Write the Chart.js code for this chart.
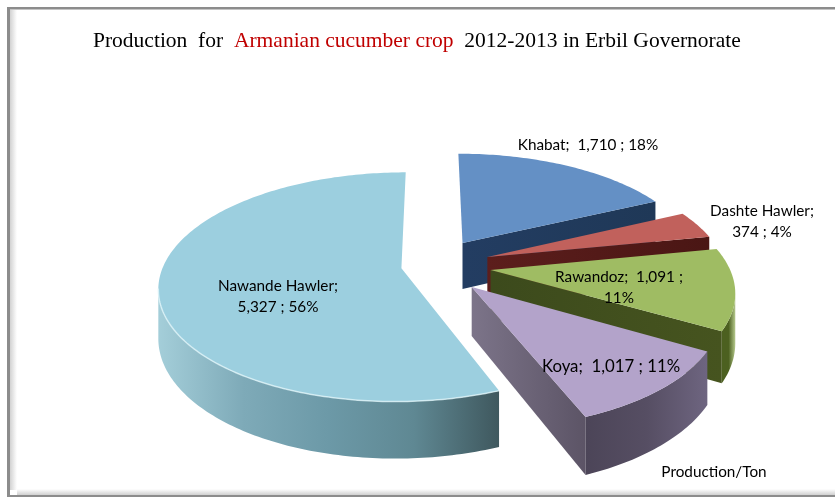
<!DOCTYPE html>
<html>
<head>
<meta charset="utf-8">
<title>Armanian cucumber production</title>
<script src="https://cdn.jsdelivr.net/npm/chart.js@4"></script>
<style>
  html, body { margin: 0; padding: 0; background: #fff; }
  canvas { display: block; }
</style>
</head>
<body>
<canvas id="pieChart" width="835" height="497"></canvas>
<script>
// data
const categories = ['Khabat', 'Dashte Hawler', 'Rawandoz', 'Koya', 'Nawande Hawler'];
const production = [1710, 374, 1091, 1017, 5327];
const shares = [18, 4, 11, 11, 56];
const titleParts = ['Production  for  ', 'Armanian cucumber crop', '  2012-2013 in Erbil Governorate'];
const seriesName = 'Production/Ton';

// explosion of each slice (Chart.js divides offset by 4 when it moves an arc)
const sliceOffsets = [236, 236, 236, 236, 124];

const sliceStyles = [
    { top: '#6490c5', edge: ['#233d62', '#1f3857'], rim: ['#1f3857', '#1f3857'] },
    { top: '#c1615c', edge: ['#5c1e1c', '#4a1614'], rim: ['#4a1614', '#4a1614'] },
    { top: '#9fbc63', edge: ['#3c4a1c', '#46541f'], rim: ['#4c6020', '#4c6020', '#b5c98c'] },
    { top: '#b3a3ca', edge: ['#7c7489', '#5c5466'], rim: ['#4c4558', '#564e63', '#6e6580'] },
    { top: '#9ccfdf', edge: ['#405a60', '#405a60'], rim: ['#a4ced9', '#7eaab8', '#6c99a7', '#5f8893', '#3f585e'], shine: true }
];

// where the label text sits, and after which part it wraps
const labelPlaces = [
    { x: 588, y: 145, size: 15.3, wrap: null },
    { x: 762, y: 211, size: 15.3, wrap: 'name' },
    { x: 619, y: 277, size: 15.3, wrap: 'value' },
    { x: 611, y: 367, size: 16.8, wrap: null },
    { x: 278, y: 286, size: 15.3, wrap: 'name' }
];

const TILT = 0.465;       // vertical squash of the pie plane
const PERSPECTIVE = 0.163;
const DEPTH = 47.5;       // height of the pie wall

function project(arc, px, py) {
    const w = 1 - PERSPECTIVE * py / arc.outerRadius;
    return {
        x: arc.x + px / w,
        y: arc.y + TILT * py / w,
        drop: DEPTH / w
    };
}

function sliceGeometry(arc) {
    const mid = (arc.startAngle + arc.endAngle) / 2;
    const shift = arc.options.offset / 4;
    const tipX = Math.cos(mid) * shift;
    const tipY = Math.sin(mid) * shift;
    const steps = Math.max(8, Math.round((arc.endAngle - arc.startAngle) * 180 / Math.PI));
    const outer = [];
    for (let i = 0; i <= steps; i++) {
        const a = arc.startAngle + (arc.endAngle - arc.startAngle) * i / steps;
        outer.push(project(arc, tipX + Math.cos(a) * arc.outerRadius, tipY + Math.sin(a) * arc.outerRadius));
    }
    return { tip: project(arc, tipX, tipY), outer };
}

function horizontalGradient(ctx, x0, x1, colors) {
    const g = ctx.createLinearGradient(x0, 0, x1, 0);
    colors.forEach((c, i) => g.addColorStop(i / (colors.length - 1), c));
    return g;
}

function fillWall(ctx, points, fill) {
    ctx.beginPath();
    points.forEach((p, i) => i ? ctx.lineTo(p.x, p.y) : ctx.moveTo(p.x, p.y));
    for (let i = points.length - 1; i >= 0; i--) {
        ctx.lineTo(points[i].x, points[i].y + points[i].drop);
    }
    ctx.closePath();
    ctx.fillStyle = fill;
    ctx.fill();
}

// a straight wall only shows when going down the screen leaves the top face
function edgeFacesViewer(a, b, inside) {
    const dx = b.x - a.x;
    const dy = b.y - a.y;
    const side = dx * (inside.y - a.y) - dy * (inside.x - a.x);
    return dx * side < 0;
}

function drawSlice(ctx, arc, style) {
    const { tip, outer } = sliceGeometry(arc);
    const middle = outer[Math.floor(outer.length / 2)];

    [outer[0], outer[outer.length - 1]].forEach(corner => {
        const steep = Math.abs(corner.x - tip.x) < 0.2 * Math.abs(corner.y - tip.y);
        if (!steep && edgeFacesViewer(tip, corner, middle)) {
            fillWall(ctx, [tip, corner],
                horizontalGradient(ctx, Math.min(tip.x, corner.x), Math.max(tip.x, corner.x), style.edge));
        }
    });

    // outer wall: the run of arc segments that look down
    const visible = [];
    for (let i = 0; i < outer.length - 1; i++) {
        if (edgeFacesViewer(outer[i], outer[i + 1], tip)) {
            if (!visible.length) visible.push(outer[i]);
            visible.push(outer[i + 1]);
        }
    }
    if (visible.length > 1) {
        const xs = visible.map(p => p.x);
        fillWall(ctx, visible, horizontalGradient(ctx, Math.min(...xs), Math.max(...xs), style.rim));
    }

    ctx.beginPath();
    ctx.moveTo(tip.x, tip.y);
    outer.forEach(p => ctx.lineTo(p.x, p.y));
    ctx.closePath();
    ctx.fillStyle = style.top;
    ctx.fill();

    if (style.shine && visible.length > 1) {
        ctx.beginPath();
        visible.forEach((p, i) => i ? ctx.lineTo(p.x, p.y) : ctx.moveTo(p.x, p.y));
        ctx.strokeStyle = 'rgba(225,245,250,0.75)';
        ctx.lineWidth = 1.5;
        ctx.stroke();
    }
}

function drawFrame(ctx, w, h) {
    ctx.fillStyle = '#fff';
    ctx.fillRect(0, 0, w, h);

    let g = ctx.createLinearGradient(10, 0, 17, 0);
    g.addColorStop(0, '#d2d2d2');
    g.addColorStop(1, '#ffffff');
    ctx.fillStyle = g;
    ctx.fillRect(10, 10, 7, h - 17);

    g = ctx.createLinearGradient(0, 489, 0, 495);
    g.addColorStop(0, '#ffffff');
    g.addColorStop(1, '#d0d0d0');
    ctx.fillStyle = g;
    ctx.fillRect(17, 489, w - 17, 6);

    ctx.fillStyle = '#8c8c8c';
    ctx.fillRect(7, 7, w - 7, 2);
    ctx.fillRect(7, 7, 3, h - 7);
    ctx.fillRect(10, 495, w - 10, 2);
    ctx.fillStyle = '#c4c4c4';
    ctx.fillRect(10, 9, w - 10, 1);
}

function drawTexts(ctx) {
    ctx.textBaseline = 'middle';
    ctx.textAlign = 'left';
    ctx.font = '21.5px "Liberation Serif"';
    let x = 93;
    titleParts.forEach((part, i) => {
        ctx.fillStyle = i === 1 ? '#c00000' : '#000';
        ctx.fillText(part, x, 41);
        x += ctx.measureText(part).width;
    });

    ctx.textAlign = 'center';
    ctx.fillStyle = '#000';
    categories.forEach((name, i) => {
        const value = production[i].toLocaleString('en-US');
        const place = labelPlaces[i];
        let lines = [`${name};  ${value} ; ${shares[i]}%`];
        if (place.wrap === 'name') lines = [`${name};`, `${value} ; ${shares[i]}%`];
        if (place.wrap === 'value') lines = [`${name};  ${value} ;`, `${shares[i]}%`];
        ctx.font = `${place.size}px Lato`;
        lines.forEach((line, n) => ctx.fillText(line, place.x, place.y + n * 21));
    });
    ctx.font = '15.3px Lato';
    ctx.fillText(seriesName, 714, 472);
}

const extrudedPie = {
    id: 'extrudedPie',
    beforeDraw(chart) {
        drawFrame(chart.ctx, chart.width, chart.height);
    },
    // the arcs are laid out by Chart.js, only their painting is replaced
    beforeDatasetsDraw(chart) {
        const ctx = chart.ctx;
        ctx.save();
        chart.getDatasetMeta(0).data.forEach((arc, i) => drawSlice(ctx, arc, sliceStyles[i]));
        drawTexts(ctx);
        ctx.restore();
        return false;
    }
};

new Chart(document.getElementById('pieChart'), {
    type: 'pie',
    plugins: [extrudedPie],
    data: {
        labels: categories,
        datasets: [{
            label: seriesName,
            data: production,
            backgroundColor: sliceStyles.map(s => s.top),
            offset: sliceOffsets,
            borderWidth: 0
        }]
    },
    options: {
        responsive: false,
        animation: false,
        radius: 238,
        rotation: 0,
        layout: { padding: { left: 29, top: 34 } },
        plugins: {
            legend: { display: false },
            tooltip: { enabled: false }
        }
    }
});
</script>
</body>
</html>
